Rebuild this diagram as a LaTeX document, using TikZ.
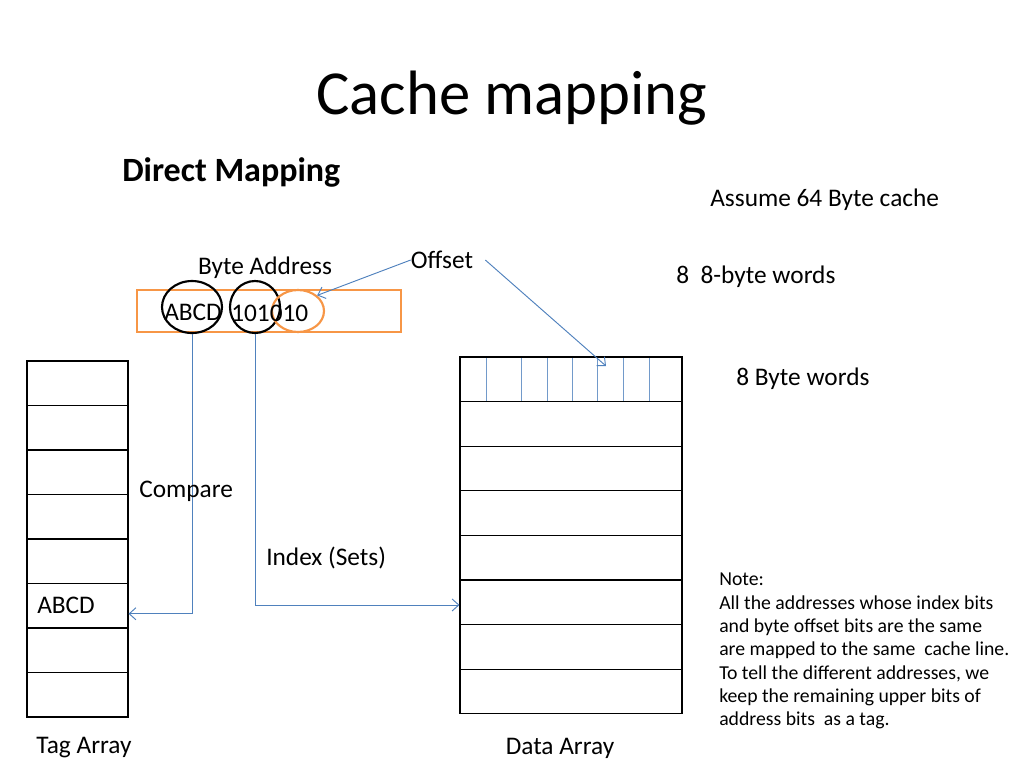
\documentclass[tikz,border=0pt]{standalone}
\usepackage{fontspec}
\setmainfont{Carlito}
\usetikzlibrary{arrows.meta,shapes.geometric}
\definecolor{ppblue}{RGB}{79,129,189}
\definecolor{pporange}{RGB}{247,150,70}
\tikzset{
  conn/.style={ppblue, line width=0.7pt, -{Straight Barb[length=5pt,width=9pt]}},
  txt/.style={font=\fontsize{19}{23}\selectfont, inner sep=0pt},
  tagcell/.style={draw, line width=0.8pt, minimum width=75.75pt, minimum height=33.4pt, inner sep=0pt},
  datacell/.style={draw, line width=0.8pt, minimum width=166.5pt, minimum height=33.5pt, inner sep=0pt},
  bitring/.style={ellipse, draw, line width=1.6pt, minimum width=45pt, minimum height=39pt, inner sep=0pt},
}
\begin{document}
\begin{tikzpicture}[x=0.75pt,y=-0.75pt]
    \useasboundingbox[fill=white] (0,0) rectangle (1024,768);
    \node[font=\fontsize{47}{56}\selectfont] (title) at (512,98) {Cache mapping};
    \node[font=\bfseries\fontsize{25.5}{30}\selectfont, anchor=west, inner sep=0pt] (kind) at (122,172) {Direct Mapping};
    \node[txt, anchor=west] (assume) at (710,200) {Assume 64 Byte cache};
    \node[txt, anchor=west] (words) at (676,277) {8~~8-byte words};
    \node[txt, anchor=west] (bytes) at (736,379) {8 Byte words};
    % the address
    \node[txt] (byteaddr) at (265,268) {Byte Address};
    \node[txt] (offset) at (442,260) {Offset};
    \draw[pporange, line width=2.2pt] (137,290) rectangle (401,332);
    \node[bitring] (tagbits) at (192,307) {};
    \node[bitring, minimum width=37.5pt] (idxbits) at (255,307) {};
    \node[bitring, pporange, minimum width=39pt, minimum height=31.5pt] (offbits) at (298,311) {};
    \node[txt, anchor=west] (tagtxt) at (164,312) {ABCD};
    \node[txt, anchor=west] (bitstxt) at (231,313) {101010};
    % tag array
    \foreach \i in {1,...,8}
        \node[tagcell] (tag\i) at (77.5,{383.25+44.5*(\i-1)}) {};
    \node[txt, anchor=west] (tagval) at (37,605) {ABCD};
    \node[txt] (taglbl) at (84,748) {Tag Array};
    % data array
    \foreach \i in {1,...,8}
        \node[datacell] (data\i) at (571,{379.3+44.6*(\i-1)}) {};
    \foreach \x in {486,521,547,572,597,623,649}
        \draw[ppblue!80, line width=0.7pt] (\x,358) -- (\x,401);
    \node[txt] (datalbl) at (560,748) {Data Array};
    \coordinate (wordtip) at (606,366);
    % connectors
    \draw[conn] (offset.west) -- (offbits.north east);
    \draw[conn] ([xshift=9pt]offset.east) -- (wordtip);
    \draw[conn] (tagbits.south) |- ([yshift=-6pt]tag6.east);
    \draw[conn] (idxbits.south) |- ([yshift=-2pt]data6.west);
    \node[txt, anchor=west] (cmp) at (139,491) {Compare};
    \node[txt, anchor=west] (idx) at (266,558) {Index (Sets)};
    % note
    \node[anchor=north west, align=left, inner sep=0pt, font=\fontsize{14.8}{17.5}\selectfont] (note) at (719,573)
        {Note:\\All the addresses whose index bits\\and byte offset bits are the same\\are mapped to the same~~cache line.\\To tell the different addresses, we\\keep the remaining upper bits of\\address bits~~as a tag.};
\end{tikzpicture}
\end{document}
